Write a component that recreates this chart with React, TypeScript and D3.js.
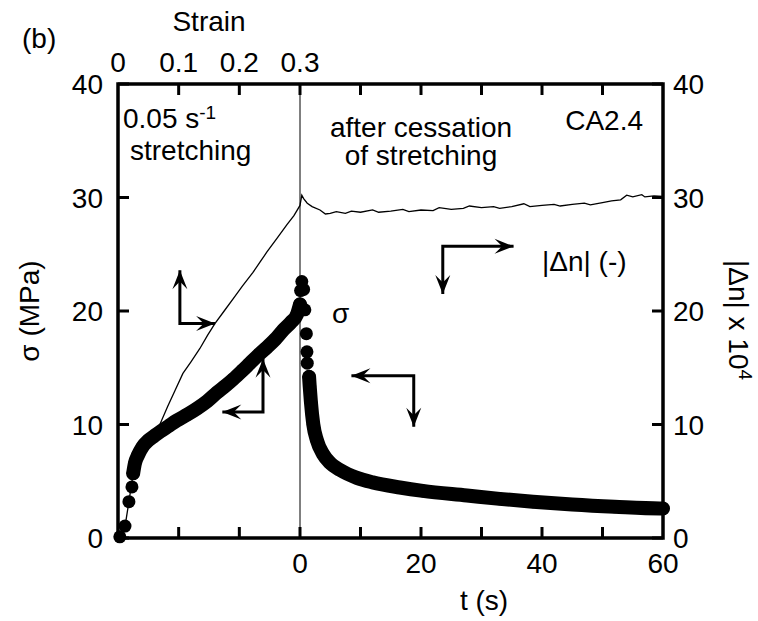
import React from 'react';
import * as d3 from 'd3';

// ---------- data ----------
const strainTicks = [0, 0.1, 0.2, 0.3];
const strainMinorTicks = [0.1, 0.2, 0.3];
const timeLabelTicks = [0, 20, 40, 60];
const timeMinorTicks = [10, 20, 30, 40, 50];
const yTicks = [0, 10, 20, 30, 40];

// stress during stretching (strain, MPa)
const sigStretchSparseStrain = [0.003, 0.0115, 0.018, 0.023, 0.025];
const sigStretchSparse = [0.1, 1.05, 3.2, 4.5, 5.7];
const sigStretchDenseStrain = [0.025, 0.028, 0.033, 0.04, 0.05, 0.06, 0.069, 0.083, 0.097, 0.115, 0.13, 0.147, 0.163, 0.177, 0.19, 0.204, 0.2175, 0.231, 0.2455, 0.259, 0.272, 0.285, 0.295, 0.3];
const sigStretchDense = [5.7, 6.6, 7.3, 8.0, 8.6, 9.0, 9.35, 9.85, 10.35, 10.9, 11.4, 12.05, 12.8, 13.4, 14.0, 14.7, 15.4, 16.1, 16.8, 17.5, 18.3, 19.0, 19.7, 20.6];

// stress after cessation (s, MPa)
const sigRelaxSparseTime = [0.1, 0.3, 0.6, 0.8, 1.05, 1.15, 1.2, 1.5];
const sigRelaxSparse = [21.8, 22.6, 21.9, 20.1, 18.0, 16.4, 15.4, 14.2];
const sigRelaxDenseTime = [1.5, 1.6, 1.8, 2.2, 2.8, 3.8, 5, 6.6, 9.4, 12, 16.5, 20.3, 27.6, 33, 38.5, 45, 52, 59.5, 60];
const sigRelaxDense = [14.2, 13.4, 12.0, 10.0, 8.6, 7.4, 6.6, 6.0, 5.3, 4.9, 4.45, 4.15, 3.75, 3.45, 3.2, 2.95, 2.75, 2.6, 2.6];

// birefringence |Δn| x 10^4 during stretching (strain)
const dnStretchStrain = [0, 0.0115, 0.018, 0.025, 0.036, 0.053, 0.069, 0.082, 0.094, 0.107, 0.12, 0.135, 0.148, 0.16, 0.175, 0.19, 0.205, 0.2225, 0.234, 0.2455, 0.262, 0.2785, 0.29, 0.3];
const dnStretch = [0, 1.0, 3.2, 5.7, 7.6, 8.8, 10.0, 11.6, 13.0, 14.5, 15.5, 16.7, 17.9, 18.9, 20.0, 21.1, 22.2, 23.4, 24.3, 25.2, 26.4, 27.6, 28.4, 29.3];

// birefringence after cessation (s)
const dnRelaxTime = [0, 0.3, 0.6, 1.2, 2.0, 3.3, 4.2, 5.0, 6.0, 7.5, 8.5, 10, 12, 13, 15, 17, 18, 20, 22, 23, 25, 27, 28, 30, 32, 33, 35, 37, 38, 40, 42, 43, 45, 47, 48, 50, 51.5, 53, 54, 55, 56.5, 57, 58.5, 60];
const dnRelax = [29.3, 30.2, 29.9, 29.5, 29.2, 28.9, 28.55, 28.6, 28.75, 28.6, 28.8, 28.7, 28.9, 28.7, 28.8, 28.95, 28.75, 28.9, 28.85, 29.1, 28.95, 29.05, 29.25, 29.1, 29.2, 29.05, 29.2, 29.45, 29.2, 29.3, 29.4, 29.25, 29.4, 29.5, 29.35, 29.55, 29.7, 29.8, 30.2, 30.05, 30.25, 30.05, 30.15, 30.1];

// ---------- layout ----------
const W = 758, H = 621;
const L = 118, R = 663, T = 84, B = 538, SPLIT = 300;
const FONT = "'Liberation Sans', Arial, Helvetica, sans-serif";
const FS = 28;

const xs = d3.scaleLinear().domain([0, 0.3]).range([L, SPLIT]);
const xt = d3.scaleLinear().domain([0, 60]).range([SPLIT, R]);
const y = d3.scaleLinear().domain([0, 40]).range([B, T]);

type P = [number, number];
const zipS = (a: number[], b: number[]): P[] => a.map((v, i) => [xs(v), y(b[i])]);
const zipT = (a: number[], b: number[]): P[] => a.map((v, i) => [xt(v), y(b[i])]);

const smooth = d3.line<P>().curve(d3.curveMonotoneX);
const straight = d3.line<P>();

function Arrow({ cx, cy, a, b }: { cx: number; cy: number; a: P; b: P }) {
  const head = (tip: P) => {
    const dx = tip[0] - cx, dy = tip[1] - cy;
    const len = Math.hypot(dx, dy);
    const ux = dx / len, uy = dy / len;
    const nx = -uy, ny = ux;
    const HL = 19, HW = 7.5;
    const p: P[] = [
      tip,
      [tip[0] - HL * ux + HW * nx, tip[1] - HL * uy + HW * ny],
      [tip[0] - HL * 0.6 * ux, tip[1] - HL * 0.6 * uy],
      [tip[0] - HL * ux - HW * nx, tip[1] - HL * uy - HW * ny],
    ];
    return <path d={straight(p)! + 'Z'} fill="#000" stroke="none" />;
  };
  const shaft: P[] = [a, [cx, cy], b];
  return (
    <g>
      <path d={straight(shaft)!} fill="none" stroke="#000" strokeWidth={3} strokeLinejoin="miter" />
      {head(a)}
      {head(b)}
    </g>
  );
}

export default function App() {
  const sigStretchDensePts = zipS(sigStretchDenseStrain, sigStretchDense);
  const sigStretchSparsePts = zipS(sigStretchSparseStrain, sigStretchSparse);
  const sigRelaxDensePts = zipT(sigRelaxDenseTime, sigRelaxDense);
  const sigRelaxSparsePts = zipT(sigRelaxSparseTime, sigRelaxSparse);
  const dnPts = [...zipS(dnStretchStrain, dnStretch), ...zipT(dnRelaxTime, dnRelax)];

  const r = 6.5;
  const band = 14;

  // arrows (data coordinates)
  const arrows = [
    { c: [xs(0.102), y(18.9)] as P, a: [xs(0.102), y(23.6)] as P, b: [xs(0.16), y(18.9)] as P },
    { c: [xs(0.239), y(11.1)] as P, a: [xs(0.239), y(15.8)] as P, b: [xs(0.172), y(11.1)] as P },
    { c: [xt(23.6), y(25.7)] as P, a: [xt(35.3), y(25.7)] as P, b: [xt(23.6), y(21.5)] as P },
    { c: [xt(18.8), y(14.3)] as P, a: [xt(8.5), y(14.3)] as P, b: [xt(18.8), y(9.8)] as P },
  ];

  const bottomTickXs = [...strainMinorTicks.map(v => xs(v)), ...timeMinorTicks.map(v => xt(v))];

  return (
    <svg width={W} height={H} style={{ position: 'absolute', left: 0, top: 0, background: '#fff' }}
      fontFamily={FONT} fontSize={FS}>
      <rect x={0} y={0} width={W} height={H} fill="#fff" />

      {/* separator line at cessation */}
      <line x1={SPLIT} x2={SPLIT} y1={T} y2={B} stroke="#000" strokeWidth={1} />

      {/* stress: dense band + dots */}
      <path d={smooth(sigStretchDensePts)!} fill="none" stroke="#000" strokeWidth={band} strokeLinecap="round" strokeLinejoin="round" />
      <path d={smooth(sigRelaxDensePts)!} fill="none" stroke="#000" strokeWidth={band} strokeLinecap="round" strokeLinejoin="round" />
      {[...sigStretchSparsePts, ...sigStretchDensePts, ...sigRelaxSparsePts, ...sigRelaxDensePts].map((p, i) => (
        <circle key={i} cx={p[0]} cy={p[1]} r={r} fill="#000" />
      ))}

      {/* birefringence line */}
      <path d={straight(dnPts)!} fill="none" stroke="#000" strokeWidth={1.3} />

      {/* frame */}
      <rect x={L} y={T} width={R - L} height={B - T} fill="none" stroke="#000" strokeWidth={3.5} />

      {/* ticks */}
      {yTicks.map(v => (
        <g key={'yt' + v}>
          <line x1={L} x2={L + 11} y1={y(v)} y2={y(v)} stroke="#000" strokeWidth={3} />
          <line x1={R} x2={R - 11} y1={y(v)} y2={y(v)} stroke="#000" strokeWidth={3} />
          <text x={103} y={y(v) + 10} textAnchor="end">{v}</text>
          <text x={673} y={y(v) + 10} textAnchor="start">{v}</text>
        </g>
      ))}
      {bottomTickXs.map((x, i) => (
        <g key={'xt' + i}>
          <line x1={x} x2={x} y1={B} y2={B - 11} stroke="#000" strokeWidth={3} />
          <line x1={x} x2={x} y1={T} y2={T + 11} stroke="#000" strokeWidth={3} />
        </g>
      ))}
      {strainTicks.map(v => (
        <text key={'st' + v} x={xs(v)} y={72} textAnchor="middle">{v}</text>
      ))}
      {timeLabelTicks.map(v => (
        <text key={'tl' + v} x={xt(v)} y={573} textAnchor="middle">{v}</text>
      ))}

      {/* axis titles */}
      <text x={xs(0.15)} y={31} textAnchor="middle">Strain</text>
      <text x={484} y={610} textAnchor="middle">t (s)</text>
      <text x={22} y={48}>(b)</text>
      <text transform="translate(39,311) rotate(-90)" textAnchor="middle">σ (MPa)</text>
      <text transform="translate(729,320) rotate(90)" textAnchor="middle">
        |Δn| x 10<tspan dy={-10} fontSize={19}>4</tspan>
      </text>

      {/* annotations */}
      <text x={123} y={128}>0.05 s<tspan dy={-9} fontSize={19}>-1</tspan></text>
      <text x={130} y={160}>stretching</text>
      <text x={421} y={137} textAnchor="middle">after cessation</text>
      <text x={421} y={165} textAnchor="middle">of stretching</text>
      <text x={643} y={130} textAnchor="end">CA2.4</text>
      <text x={542} y={271}>|Δn| (-)</text>
      <text x={332} y={323}>σ</text>

      {arrows.map((ar, i) => (
        <Arrow key={i} cx={ar.c[0]} cy={ar.c[1]} a={ar.a} b={ar.b} />
      ))}
    </svg>
  );
}
